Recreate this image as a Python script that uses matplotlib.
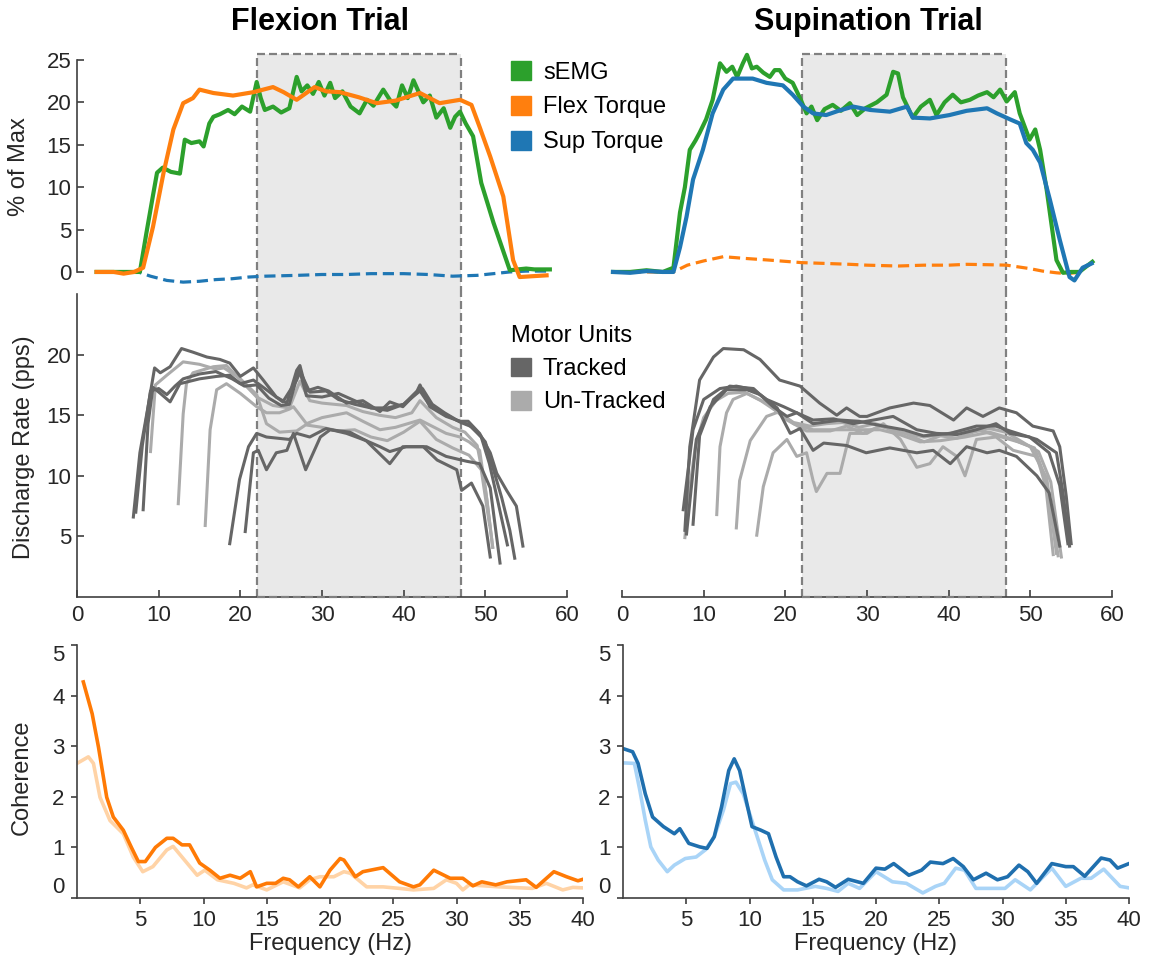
import matplotlib.pyplot as plt
from matplotlib.patches import Patch

plt.rcParams['font.family'] = ['Liberation Sans', 'DejaVu Sans']

# ---- top row: force / EMG traces (% of max) ----
flex_emg_t = [2.4, 5, 7.7, 8.5, 9.3, 9.8, 10.5, 11.5, 12.6, 13.2, 14, 15, 15.5, 16.2, 16.7, 17.5, 18.5, 19.3,
              20.2, 21.2, 22, 22.5, 23, 24, 25, 26, 26.9, 27.5, 28.2, 28.9, 29.6, 30.3, 31, 31.6, 32.5, 33.5,
              34.6, 35.5, 36.3, 37.5, 38.3, 39.1, 39.8, 40.5, 41.2, 42.4, 43.2, 44, 44.9, 45.7, 46.3, 46.9,
              47.6, 48.5, 49.5, 50.3, 51, 52, 53, 54, 55, 56, 57.9]
flex_emg_v = [0, 0, 0, 4.6, 9, 11.7, 12.3, 11.8, 11.6, 15.6, 15.2, 15.4, 14.8, 17.5, 18.3, 18.6, 19.1, 18.6,
              19.5, 18.9, 22.4, 20.5, 19.1, 19.5, 18.8, 19.3, 23, 21.3, 22, 21, 22.4, 20.8, 22.3, 20.5, 21.3, 19.5,
              18.7, 20.3, 19.6, 21.5, 20.3, 19.5, 22, 20.5, 22.6, 20, 20.8, 18.2, 19.3, 17, 18.3, 18.9,
              17.5, 16, 10.5, 8, 5.8, 3, 0.2, 0.3, 0.4, 0.3, 0.3]
flex_ft_t = [2.4, 4.5, 5.7, 7, 8.1, 9.3, 10.6, 11.8, 13, 14.2, 15, 16.7, 19.1, 21.6, 22.8, 24, 25.3, 26.9, 29.1,
             30.5, 32.2, 34.5, 36.7, 39, 42, 44.4, 46.9, 48.3, 49.3, 50.6, 52.2, 53.4, 54.2, 55.8, 57.5]
flex_ft_v = [0, 0, -0.2, 0, 0.5, 5.3, 11.7, 16.8, 19.9, 20.5, 21.5, 21.1, 20.8, 21.2, 21.5, 21.8, 21.2, 20.3, 21.8,
             21.3, 21.2, 20.6, 19.9, 20.2, 21.1, 19.9, 20.3, 19.7, 17.1, 13.6, 8.9, 1.4, -0.6, -0.5, -0.4]
flex_st_t = [2.4, 5, 7.5, 9, 11, 13, 15, 17, 19, 21, 23, 25, 27, 30, 33, 36, 40, 43, 46, 49, 51, 53, 55, 57.5]
flex_st_v = [0, 0, 0, -0.5, -1, -1.2, -1.1, -0.9, -0.8, -0.6, -0.5, -0.45, -0.4, -0.3, -0.3, -0.2, -0.2, -0.3,
             -0.5, -0.4, -0.2, 0, 0.1, 0.1]

sup_emg_t = [-1.1, 1, 3, 5, 6.3, 7.1, 7.7, 8.3, 9, 9.5, 10.3, 11.1, 12, 12.8, 13.5, 14.1, 14.8, 15.3, 15.9, 16.5,
             17.3, 18.1, 18.7, 19.3, 20, 20.9, 21.8, 22.6, 23.2, 23.9, 24.8, 25.8, 26.8, 27.9, 28.8, 29.8, 31.2,
             32.4, 33.2, 33.8, 34.4, 35.6, 36.6, 37.7, 38.5, 39.5, 40.5, 41.5, 42.6, 43.6, 44.7, 45.5, 46.3,
             47.1, 48.1, 48.7, 49.9, 50.6, 51.2, 52, 53.2, 54, 55, 56, 57.6]
sup_emg_v = [0, 0, 0.2, 0, 0.5, 7, 10, 14.4, 15.5, 16.4, 18, 20.3, 24.6, 23.6, 24.2, 23, 24.6, 25.6, 24, 24.2,
             23.5, 23, 23.8, 23.8, 22.8, 22.3, 20.5, 18.7, 19.5, 17.9, 19.2, 19.7, 19, 19.9, 18.5, 19.3, 20,
             20.9, 23.6, 23.4, 20.6, 18.2, 19.5, 20.3, 18.5, 20, 20.9, 20, 20.3, 20.8, 21.2, 20.6, 21.5,
             20.1, 21.2, 18.7, 15.6, 16.8, 14.4, 9.7, 1.4, -0.1, 0, 0, 1.2]
sup_st_t = [-1.1, 1, 3, 5, 6.3, 7.1, 7.9, 8.7, 9.9, 11.1, 12.4, 13.6, 16, 17.7, 19.7, 20.9, 22.2, 23.4, 25, 26.5,
            28.3, 30.4, 32.8, 34.9, 35.6, 37.7, 40.1, 42.2, 44.7, 45.9, 47.5, 48.7, 49.5, 50.3, 51.2, 52.4,
            53.6, 54.8, 55.4, 56.4, 57.5]
sup_st_v = [0, -0.1, 0.1, 0, 0, 2.9, 6.5, 10.9, 14.4, 18.7, 21.5, 22.8, 22.8, 22.3, 22, 20.9, 19.5, 18.7, 18.5, 19,
            19.5, 19.1, 18.9, 19.5, 18.2, 18.1, 18.5, 19, 19.3, 18.7, 18, 17.5, 15.2, 14.4, 12.9, 8.5,
            3.8, -0.6, -1, 0.5, 1]
sup_ft_t = [-1.1, 2, 4, 6.3, 8, 10, 12.4, 15, 18, 22, 25, 27.9, 30, 33.8, 37, 40, 42.2, 45, 47.1, 48.5, 49.9,
            51.5, 53.2, 54.5, 56.4]
sup_ft_v = [0, 0, 0, 0, 0.8, 1.3, 1.8, 1.6, 1.4, 1.1, 1.0, 0.9, 0.8, 0.7, 0.8, 0.8, 0.9, 0.85, 0.8, 0.6, 0.4,
            0.1, -0.1, -0.2, 0]

# ---- middle row: motor unit discharge rates (pps) ----
flex_tracked = [
    ([6.9, 7.7, 8.7, 9.5, 10.2, 11.4, 12.8, 14.2, 15.9, 17.5, 18.7, 20, 21.6, 22.8, 24.4, 25.7, 26.9, 27.3, 28.1,
      29.5, 30.8, 33, 35, 37.1, 38.3, 39.9, 41.5, 42, 43.2, 45.2, 46.9, 47.9, 49.3, 50.6, 51.4, 52.6, 53.8, 54.6],
     [6.6, 11.9, 15.7, 18.9, 18.5, 19, 20.5, 20.2, 19.8, 19.6, 19.3, 18.2, 18.9, 17.9, 16.5, 16, 18.7, 19.1, 17,
      17.3, 17, 16, 16.2, 15.3, 16.1, 15.7, 16.8, 17.5, 15.7, 14.9, 14.5, 14.5, 13.5, 11.9, 10.2, 8.8, 7.5, 4.2]),
    ([8.1, 8.7, 9.3, 10.2, 11.4, 12.6, 15, 17.1, 18.7, 20, 21.6, 23.2, 25.2, 26.9, 27.3, 28.1, 30, 32, 34, 36,
      38, 40, 41.5, 42.3, 43.5, 45, 46.5, 48, 49.5, 50.5, 51.5, 52.7],
     [7.2, 14.3, 17.3, 16.8, 16.1, 17.6, 18, 18.2, 18.3, 17.6, 17.9, 17.1, 16.1, 17.9, 18.6, 16.6, 16.5, 16.8,
      16.2, 15.6, 15.4, 15.9, 16.9, 17.2, 15.9, 15.2, 14.6, 14.2, 13.2, 11, 8, 4.3]),
    ([7.2, 8, 9, 10, 11, 12, 13, 15, 17, 19, 20.5, 22, 23.5, 25, 26, 27.2, 28.5, 30.5, 32, 34, 36, 38, 40, 42,
      43, 45, 47, 48.5, 50, 51, 52, 53, 53.6],
     [7, 12.5, 17, 17.2, 16.7, 17.4, 18, 18.4, 18.6, 18, 17.4, 17.5, 16.4, 15.8, 15.9, 18.8, 16.9, 17, 16.3,
      15.9, 15.6, 15.6, 15.9, 17, 16, 15.1, 14.4, 14, 12.8, 10.5, 8.2, 5.5, 3.2]),
    ([18.7, 19.9, 21, 22, 23.2, 26, 26.9, 28.5, 30.5, 33, 35.4, 37.1, 38.3, 40.3, 42.8, 45.2, 47.7, 49.3, 50.6,
      51.8],
     [4.4, 9.7, 12.4, 13.5, 13.2, 13, 13.5, 13.2, 13.9, 13.5, 12.9, 12.4, 12, 12.4, 12.4, 11.6, 11.2, 11, 9, 2.8]),
    ([20.6, 21.6, 22.2, 23.2, 24.4, 25.7, 26.5, 28, 29.8, 31, 33.4, 35.4, 38.3, 39.9, 42.4, 44.1, 46.5, 47.1,
      48.3, 49.7, 50.6],
     [5.4, 11.9, 12.1, 10.5, 11.9, 12.1, 13.5, 10.5, 13.2, 13.8, 13.6, 12.9, 11, 12.4, 12.4, 11.3, 10.5, 8.8,
      9.4, 7.5, 3.3]),
]
flex_untracked = [
    ([12.4, 13, 13.4, 14.2, 16.7, 18.3, 20, 22, 24, 26, 27.3, 28.5, 30, 33, 35, 37, 39, 41, 42, 44, 46, 47.5,
      49, 50, 50.9],
     [7.7, 15.1, 17.6, 18.5, 19, 19.1, 17.9, 16.5, 15.8, 15.6, 17.8, 16.2, 16, 15.8, 15.3, 15, 14.8, 15.2, 16.2,
      14.8, 14, 13.6, 12.5, 9, 4.1]),
    ([15.7, 16.3, 17.1, 18.3, 20, 22, 23.2, 24.8, 26, 26.5, 28.1, 30, 33, 35, 37.1, 39, 42, 45.2, 46.9, 48,
      49.3, 50.2, 50.9],
     [5.9, 13.8, 17.1, 17.6, 16.8, 15.7, 15.2, 15.2, 15.5, 15.7, 14.3, 14.8, 15.2, 14.5, 13.8, 14, 14.6, 13.5,
      13.2, 12.8, 12.1, 8, 4.1]),
    ([9, 9.6, 11, 13, 15, 17, 18, 20, 22, 23.2, 24.8, 26.9, 28, 30, 32, 34, 36, 38, 40, 42, 44, 46, 48, 49.5,
      50.5],
     [12, 17.5, 18.3, 19.4, 19.2, 18.8, 18.9, 18, 16.7, 14.3, 13.6, 13.7, 14.2, 14, 13.7, 13.8, 13.2, 12.9,
      13.6, 14.5, 13, 12.3, 11.7, 10.5, 6]),
]
sup_tracked = [
    ([7.7, 8.3, 9.5, 11.2, 12.4, 14.9, 16.9, 19.3, 21.8, 24.2, 26.3, 27.5, 29.1, 30, 32.8, 35.7, 37.7, 40.6,
      42.2, 44.2, 46.2, 48.3, 50.3, 52.8, 53.6, 54.4, 55],
     [5.5, 12.4, 17.9, 19.8, 20.5, 20.4, 19.6, 17.9, 17.4, 16, 15, 15.6, 14.9, 14.9, 15.6, 16, 15.8, 14.6,
      15.6, 14.9, 15.6, 15.2, 14.1, 13.7, 12.4, 8.3, 4.4]),
    ([7.5, 8.7, 10, 12, 14, 16.1, 17.7, 19.8, 21.4, 23.4, 25.9, 28.3, 30.8, 33.2, 36.1, 38.5, 41, 43.4, 45.8,
      47.5, 49.9, 52.3, 53.6, 54.6],
     [7.2, 13.8, 16.3, 17.2, 17.4, 17.1, 16.3, 15.7, 15.2, 14.6, 14.7, 14.3, 14.6, 14.9, 13.8, 13.5, 13.4,
      13.8, 14.3, 13.5, 13.2, 11.9, 9.2, 4.4]),
    ([7.9, 9.1, 10.8, 12.8, 15.3, 16.9, 19, 20.6, 21.8, 23.4, 24.7, 27.5, 29.9, 32.8, 36.1, 38.1, 40.2, 42.2,
      44.7, 46.2, 48.3, 50.8, 52.3, 53.6],
     [5.2, 13, 15.7, 17.1, 17.1, 16.7, 15.6, 13.5, 13.9, 12.1, 12.7, 12.5, 11.9, 12.3, 11.9, 12.1, 11, 12.4,
      11.9, 12.1, 11.6, 10, 8.6, 4.2]),
    ([8.7, 9.5, 11.2, 13.2, 16.1, 18.5, 20.2, 21.4, 23.4, 26.7, 29, 32, 34.5, 36.9, 40.2, 43.4, 45.8, 47.5,
      50.8, 53.2, 54, 54.8],
     [6, 13.3, 16.3, 17.4, 17.2, 15.7, 14.9, 15.2, 14.3, 14.6, 14.5, 14.1, 13.8, 13.3, 13.5, 14.1, 14.1, 13.7,
      13, 11.9, 8.6, 4.2]),
]
sup_untracked = [
    ([11.6, 12, 12.8, 13.6, 15.3, 17.7, 20.2, 22.6, 25.5, 27.5, 29.5, 31.6, 34, 37, 40, 43, 46, 48.5, 50.5,
      52, 53.2],
     [6.8, 12.4, 15.2, 16.3, 16.8, 16, 14.6, 13.7, 13.7, 14.1, 13.5, 14.1, 13.6, 13.2, 13.5, 13.9, 13.3, 12.8,
      12.3, 9.5, 3.6]),
    ([14, 14.4, 15.7, 17.7, 19.3, 21, 23.4, 25.9, 28.3, 31.6, 34, 36.5, 39, 42, 45, 47.5, 50, 52, 53.4],
     [5.7, 9.6, 12.9, 14.9, 15.3, 14.3, 13.8, 13.8, 13.8, 13.8, 13.4, 12.8, 12.9, 13.2, 13.6, 13.1, 12.4,
      9.8, 3.4]),
    ([16.5, 17.3, 18.5, 20.2, 21.4, 22.6, 23.4, 23.8, 25.1, 26.7, 27.9, 30, 32, 34.1, 36.1, 37.7, 39.3, 41, 42,
      43.4, 45.8, 47.9, 50.8, 51.9, 52.8],
     [5.1, 9.1, 11.9, 13, 11.6, 11.9, 9.6, 8.7, 10.2, 10.2, 13.5, 13.5, 14.3, 13, 10.7, 11, 12.4, 11.6, 10,
      13, 13.2, 12.1, 11.6, 9.1, 3.5]),
    ([7.7, 8.3, 9, 10, 11.5, 13, 15, 17, 19, 21, 23, 25, 27, 29, 31, 33, 35, 37, 39, 41, 43, 45, 47, 49, 51,
      52.5, 53.8],
     [4.9, 9, 12.5, 14.8, 16.2, 16.8, 16.9, 16.2, 15.3, 14.4, 14.1, 14.3, 14.4, 14, 14.3, 13.9, 13.4, 12.8,
      13.3, 13.1, 13.6, 13.9, 13.6, 12.8, 12, 9.5, 3.3]),
]

# ---- bottom row: coherence spectra ----
flex_coh_hz = [0.5, 1.2, 1.7, 2.35, 2.87, 3.66, 4.3, 4.85, 5.4, 6.2, 7.1, 7.6, 8.3, 8.9, 9.7, 10.5, 11.3, 12.1,
               12.9, 13.7, 14.2, 15, 15.7, 16.3, 16.8, 17.5, 18.4, 19.2, 20, 20.8, 21.1, 22, 22.6, 24.2, 25.5,
               26.6, 27.1, 28.2, 29.5, 30.5, 31.3, 32, 33.1, 34, 35.5, 36.3, 37.7, 38.7, 39.6, 40]
flex_coh = [4.27, 3.64, 2.98, 1.99, 1.6, 1.34, 1.0, 0.72, 0.72, 1.0, 1.18, 1.18, 1.05, 1.05, 0.69, 0.55, 0.39,
            0.45, 0.39, 0.52, 0.22, 0.29, 0.29, 0.39, 0.36, 0.22, 0.42, 0.22, 0.55, 0.78, 0.75, 0.42, 0.52, 0.6,
            0.32, 0.22, 0.26, 0.55, 0.39, 0.39, 0.24, 0.32, 0.26, 0.32, 0.36, 0.21, 0.52, 0.42, 0.34, 0.37]
flex_coh_ref_hz = [0, 0.9, 1.3, 1.82, 2.61, 3.66, 4.45, 5.2, 6, 7.1, 7.6, 8.3, 9.5, 10.1, 11.1, 12.4, 13.4, 13.9,
                   15, 16.3, 17.6, 18.4, 19.2, 20.3, 21.1, 21.6, 22.9, 24.2, 25.5, 26.6, 28.2, 29.2, 30, 30.5,
                   31, 33.4, 36, 37.1, 38.4, 39.2, 40]
flex_coh_ref = [2.66, 2.79, 2.66, 1.99, 1.53, 1.27, 0.81, 0.52, 0.62, 0.95, 1.02, 0.81, 0.45, 0.55, 0.36, 0.29,
                0.2, 0.26, 0.16, 0.32, 0.2, 0.36, 0.42, 0.42, 0.52, 0.49, 0.22, 0.22, 0.19, 0.16, 0.19, 0.36,
                0.29, 0.16, 0.26, 0.22, 0.19, 0.29, 0.16, 0.21, 0.2]
sup_coh_hz = [0.04, 0.76, 1.19, 1.76, 2.34, 3.2, 4.06, 4.49, 5.2, 6.07, 6.64, 7.21, 7.79, 8.36, 8.79, 9.22, 9.79,
              10.2, 10.9, 11.5, 12.1, 12.7, 13.2, 13.8, 14.5, 15.5, 16.1, 16.8, 17.8, 19, 20, 20.7, 21.4, 22.6,
              23.6, 24.3, 25.3, 26.1, 26.9, 27.7, 28.7, 29.6, 30.4, 31.3, 32, 32.7, 33.9, 35, 35.6, 36.5, 37.8,
              38.5, 39.1, 40]
sup_coh = [2.95, 2.89, 2.66, 2.06, 1.6, 1.41, 1.27, 1.37, 1.08, 1.01, 0.98, 1.21, 1.8, 2.52, 2.75, 2.52, 1.87,
           1.41, 1.34, 1.27, 0.81, 0.42, 0.42, 0.32, 0.24, 0.37, 0.32, 0.21, 0.37, 0.29, 0.59, 0.57, 0.68, 0.45,
           0.55, 0.71, 0.68, 0.78, 0.62, 0.36, 0.49, 0.36, 0.42, 0.65, 0.52, 0.29, 0.68, 0.62, 0.62, 0.43, 0.79,
           0.75, 0.59, 0.68]
sup_coh_ref_hz = [0.04, 0.9, 1.33, 1.76, 2.2, 2.78, 3.5, 4.06, 4.92, 5.78, 6.5, 7.21, 7.93, 8.5, 8.93, 9.5, 10.1,
                  10.7, 11.2, 11.8, 12.7, 13.8, 15.2, 16.1, 17, 17.8, 18.7, 20, 21.3, 22.4, 23.7, 24.7, 25.4,
                  26.3, 27, 27.9, 30.2, 31, 32.2, 33.9, 35, 36.2, 37, 38, 39.3, 40]
sup_coh_ref = [2.67, 2.66, 2.13, 1.54, 1.01, 0.75, 0.52, 0.65, 0.78, 0.81, 0.95, 1.21, 1.73, 2.26, 2.29, 2.06,
               1.6, 1.14, 0.75, 0.36, 0.16, 0.16, 0.23, 0.19, 0.13, 0.29, 0.19, 0.52, 0.32, 0.29, 0.1, 0.23, 0.29,
               0.59, 0.55, 0.19, 0.19, 0.36, 0.16, 0.59, 0.23, 0.39, 0.39, 0.57, 0.23, 0.2]

window = (22, 47)

green = '#2ca02c'
orange = '#ff7f0e'
blue = '#1f77b4'
dark_mu = '#666666'
light_mu = '#ababab'
coh_orange, coh_orange_ref = '#ff7a05', '#ffd3a6'
coh_blue, coh_blue_ref = '#1f6fae', '#a9d4f7'
axis_col = '#404040'
text_col = '#262626'

W, H = 1149.0, 966.0


def rect(x0, y0, x1, y1):
    return [x0 / W, 1 - y1 / H, (x1 - x0) / W, (y1 - y0) / H]


fig = plt.figure(figsize=(11.49, 9.66), dpi=100)
ax_tl = fig.add_axes(rect(77, 54, 567, 294))
ax_ml = fig.add_axes(rect(77, 294, 567, 597))
ax_bl = fig.add_axes(rect(77, 645, 583, 898))
ax_tr = fig.add_axes(rect(622, 54, 1112, 294))
ax_mr = fig.add_axes(rect(622, 294, 1112, 597))
ax_br = fig.add_axes(rect(623, 645, 1129, 898))

top_ylim = (-2.6, 25.7)
dash = (0, (3.6, 1.8))

for ax_top, ax_mid in ((ax_tl, ax_ml), (ax_tr, ax_mr)):
    for ax in (ax_top, ax_mid):
        ax.set_xlim(0, 60)
        ax.axvspan(*window, color='#e9e9e9', lw=0, zorder=0)
        for x in window:
            ax.axvline(x, color='#808080', lw=1.6, ls=dash, zorder=1.5)
    ax_top.set_ylim(*top_ylim)
    ax_top.plot(window, [top_ylim[1]] * 2, color='#808080', lw=1.6, ls=dash, clip_on=False, zorder=1.5)
    ax_mid.set_ylim(0, 25)
    ax_mid.plot(window, [0, 0], color='#808080', lw=1.6, ls=dash, clip_on=False, zorder=3)

# traces
ax_tl.plot(flex_st_t, flex_st_v, color=blue, lw=2.3, ls=(0, (3.5, 1.8)), clip_on=False)
ax_tl.plot(flex_emg_t, flex_emg_v, color=green, lw=3, clip_on=False)
ax_tl.plot(flex_ft_t, flex_ft_v, color=orange, lw=3, clip_on=False)

ax_tr.plot(sup_ft_t, sup_ft_v, color=orange, lw=2.3, ls=(0, (3.5, 1.8)), clip_on=False)
ax_tr.plot(sup_emg_t, sup_emg_v, color=green, lw=3, clip_on=False)
ax_tr.plot(sup_st_t, sup_st_v, color=blue, lw=3, clip_on=False)

for ax, tracked, untracked in ((ax_ml, flex_tracked, flex_untracked), (ax_mr, sup_tracked, sup_untracked)):
    for t, v in untracked:
        ax.plot(t, v, color=light_mu, lw=2.2, zorder=2)
    for t, v in tracked:
        ax.plot(t, v, color=dark_mu, lw=2.2, zorder=2.5)

ax_bl.plot(flex_coh_ref_hz, flex_coh_ref, color=coh_orange_ref, lw=2.6)
ax_bl.plot(flex_coh_hz, flex_coh, color=coh_orange, lw=2.6)
ax_br.plot(sup_coh_ref_hz, sup_coh_ref, color=coh_blue_ref, lw=2.6)
ax_br.plot(sup_coh_hz, sup_coh, color=coh_blue, lw=2.6)

# axes styling
for ax in fig.axes:
    for s in ax.spines.values():
        s.set_color(axis_col)
        s.set_linewidth(1.2)
    ax.spines['top'].set_visible(False)
    ax.spines['right'].set_visible(False)
    ax.tick_params(colors=axis_col, labelcolor=text_col, labelsize=16, width=1.2)

ax_tr.axis('off')

ax_tl.spines['bottom'].set_visible(False)
ax_tl.spines['left'].set_bounds(0, 25)
ax_tl.set_xticks([])
ax_tl.set_yticks([0, 5, 10, 15, 20, 25])
ax_tl.tick_params(axis='y', direction='in', length=5, pad=4)
ax_tl.set_ylabel('% of Max', fontsize=17, color=text_col)
ax_tl.yaxis.set_label_coords(-0.095, 0.533)

for ax in (ax_ml, ax_mr):
    ax.set_xticks(range(0, 61, 10))
    ax.tick_params(axis='x', direction='in', length=5, pad=6)
ax_ml.set_yticks([5, 10, 15, 20])
ax_ml.tick_params(axis='y', direction='in', length=5, pad=4)
ax_ml.set_ylabel('Discharge Rate (pps)', fontsize=17, color=text_col)
ax_ml.yaxis.set_label_coords(-0.085, 0.495)
ax_mr.spines['left'].set_visible(False)
ax_mr.set_yticks([])

for ax in (ax_bl, ax_br):
    ax.set_xlim(0, 40)
    ax.set_ylim(0, 5)
    ax.set_xticks(range(5, 41, 5))
    ax.set_yticks(range(0, 6))
    ax.tick_params(direction='out', length=4, pad=5)
    ax.set_xlabel('Frequency (Hz)', fontsize=17, color=text_col)
    ax.xaxis.set_label_coords(0.5, -0.14)
    labels = ax.get_yticklabels()
    labels[0].set_va('bottom')
    labels[-1].set_va('top')
ax_bl.set_ylabel('Coherence', fontsize=17, color=text_col)
ax_bl.yaxis.set_label_coords(-0.088, 0.478)

fig.text(320 / W, 1 - 22 / H, 'Flexion Trial', fontsize=22, fontweight='bold', ha='center', va='center')
fig.text(868 / W, 1 - 22 / H, 'Supination Trial', fontsize=22, fontweight='bold', ha='center', va='center')

# legends
leg_kw = dict(loc='upper left', frameon=False, fontsize=17, handlelength=0.85, handleheight=0.85,
              handletextpad=0.5, borderpad=0, borderaxespad=0)
fig.legend([Patch(color=green), Patch(color=orange), Patch(color=blue)],
           ['sEMG', 'Flex Torque', 'Sup Torque'], labelspacing=0.52,
           bbox_to_anchor=(511 / W, 1 - 61 / H), **leg_kw)
fig.legend([Patch(color=dark_mu), Patch(color=light_mu)], ['Tracked', 'Un-Tracked'],
           title='Motor Units', title_fontsize=17, alignment='left', labelspacing=0.45,
           bbox_to_anchor=(511 / W, 1 - 325 / H), **leg_kw)

fig.savefig('out.png', dpi=100)
